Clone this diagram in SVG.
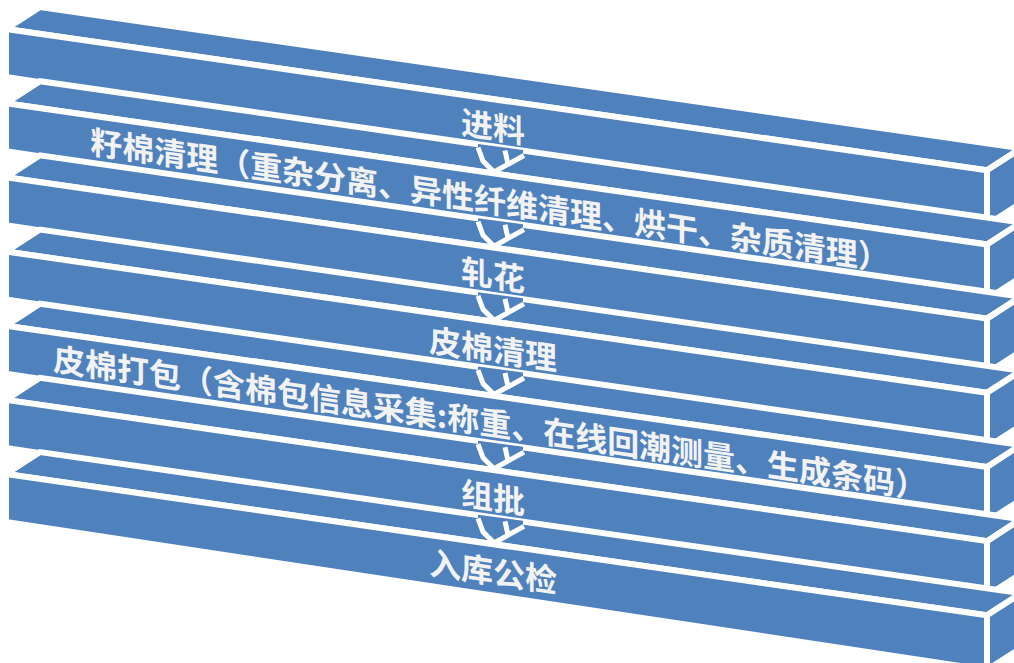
<svg xmlns="http://www.w3.org/2000/svg" width="1014" height="663" viewBox="0 0 1014 663">
<style>
.face{fill:#4F81BD;stroke:#FFFFFF;stroke-width:6;stroke-linejoin:miter;stroke-miterlimit:3}
.lbl{font-family:"Noto Sans CJK SC","Noto Sans CJK JP",sans-serif;font-size:32px;font-weight:bold;fill:#F2F2F2;text-anchor:middle;dominant-baseline:central}
.afill{fill:#4F81BD;stroke:none}
.aline{fill:none;stroke:#FFFFFF;stroke-width:5;stroke-linejoin:miter;stroke-linecap:butt}
</style>
<defs>
<g id="bar">
<polygon class="face" points="6,29 987,170.3 1021,148.3 40,7"/>
<polygon class="face" points="987,170.3 1021,148.3 1021,203 987,225"/>
<polygon class="face" points="6,29 987,170.3 987,225 6,77"/>
</g>
<g id="arrow">
<polygon class="afill" points="478,144 478,149 483,161 494,172 523,156 523,150"/>
<polyline class="aline" points="478,147.5 483,161 494,172 524,155.5"/>
<line class="aline" x1="505" y1="150.5" x2="508" y2="164"/>
</g>
</defs>
<rect x="0" y="0" width="1014" height="663" fill="#FFFFFF"/>
<g id="step1" transform="translate(0,0)">
<use href="#bar"/>
<text class="lbl" x="493" y="52" transform="skewY(8.39)">进料</text>
</g>
<g id="step2" transform="translate(0,74.17)">
<use href="#bar"/>
<text class="lbl" x="490" y="52" transform="skewY(8.39)">籽棉清理（重杂分离、异性纤维清理、烘干、杂质清理）</text>
</g>
<g id="step3" transform="translate(0,148.34)">
<use href="#bar"/>
<text class="lbl" x="493" y="52" transform="skewY(8.39)">轧花</text>
</g>
<g id="step4" transform="translate(0,222.51)">
<use href="#bar"/>
<text class="lbl" x="493" y="52" transform="skewY(8.39)">皮棉清理</text>
</g>
<g id="step5" transform="translate(0,296.68)">
<use href="#bar"/>
<text class="lbl" x="490" y="52" transform="skewY(8.39)">皮棉打包（含棉包信息采集:称重、在线回潮测量、生成条码）</text>
</g>
<g id="step6" transform="translate(0,370.85)">
<use href="#bar"/>
<text class="lbl" x="493" y="52" transform="skewY(8.39)">组批</text>
</g>
<g id="step7" transform="translate(0,445.02)">
<use href="#bar"/>
<text class="lbl" x="493" y="52" transform="skewY(8.39)">入库公检</text>
</g>
<g id="connectors">
<use href="#arrow" transform="translate(0,0)"/>
<use href="#arrow" transform="translate(0,74.17)"/>
<use href="#arrow" transform="translate(0,148.34)"/>
<use href="#arrow" transform="translate(0,222.51)"/>
<use href="#arrow" transform="translate(0,296.68)"/>
<use href="#arrow" transform="translate(0,370.85)"/>
</g>
</svg>
